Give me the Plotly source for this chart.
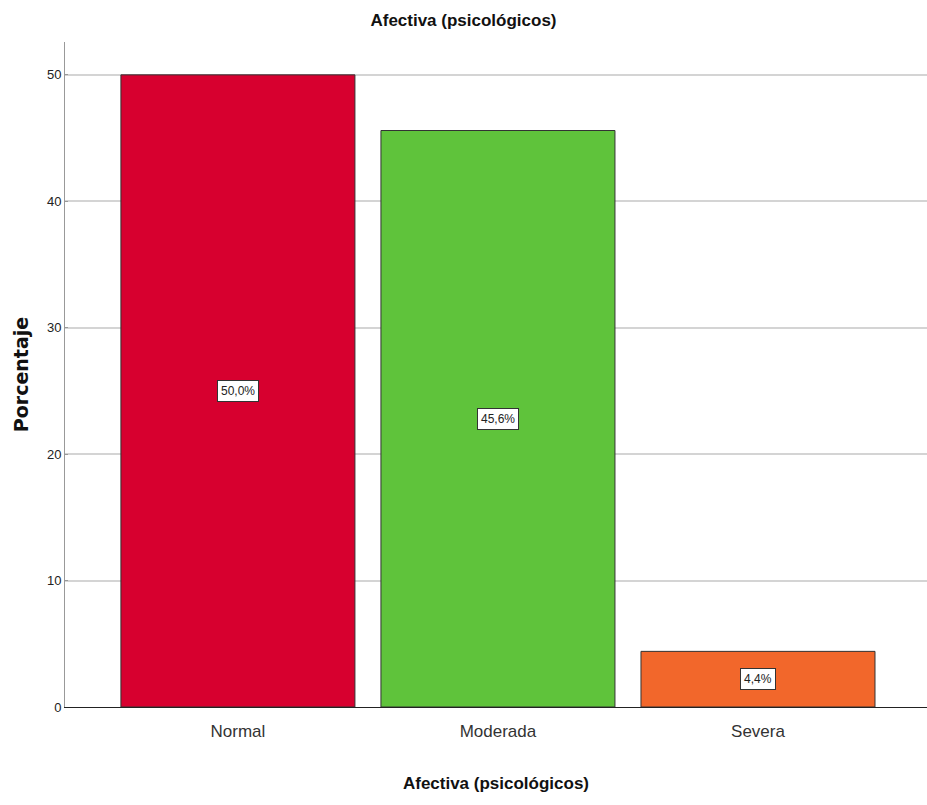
import plotly.graph_objects as go

# Category data
categories = ["Normal", "Moderada", "Severa"]
percentages = [50.0, 45.6, 4.4]
bar_colors = ["#D7002F", "#5FC33B", "#F2672B"]
value_labels = ["50,0%", "45,6%", "4,4%"]

narrow = "Liberation Sans Narrow, Arial Narrow, Liberation Sans, sans-serif"

fig = go.Figure()
fig.add_trace(go.Bar(
    x=categories,
    y=percentages,
    marker=dict(color=bar_colors, line=dict(color="#333333", width=1)),
    hoverinfo="skip",
))

# Value boxes centred at half the bar height
for cat, val, lab in zip(categories, percentages, value_labels):
    fig.add_annotation(
        x=cat, y=val / 2, text=lab, showarrow=False,
        font=dict(family=narrow, size=12, color="#222222"),
        bgcolor="white", bordercolor="#333333", borderwidth=1, borderpad=3,
    )

fig.update_layout(
    width=927, height=805,
    margin=dict(l=65, r=0, t=42, b=98),
    paper_bgcolor="white", plot_bgcolor="white",
    bargap=0.1,
    showlegend=False,
    title=dict(text="<b>Afectiva (psicológicos)</b>", x=0.5, xanchor="center",
               y=0.975, yanchor="middle",
               font=dict(family=narrow, size=17, color="#111111")),
    xaxis=dict(
        range=[-0.665, 2.65],
        showgrid=False, zeroline=False,
        showline=True, linecolor="#222222", linewidth=1,
        ticks="", ticklabelstandoff=9,
        tickfont=dict(family=narrow, size=17, color="#333333"),
        title=dict(text="<b>Afectiva (psicológicos)</b>", standoff=36,
                   font=dict(family=narrow, size=17, color="#111111")),
    ),
    yaxis=dict(
        range=[0, 52.6],
        tickvals=[0, 10, 20, 30, 40, 50],
        showgrid=True, gridcolor="#D4D4D4", gridwidth=2,
        zeroline=False,
        showline=True, linecolor="#999999", linewidth=1,
        ticks="inside", ticklen=3, tickcolor="#999999",
        tickfont=dict(family=narrow, size=13, color="#222222"),
        title=dict(text="<b>Porcentaje</b>", standoff=13,
                   font=dict(family="DejaVu Sans, Liberation Sans, sans-serif", size=19, color="#111111")),
    ),
)

fig.write_html("out.html")
